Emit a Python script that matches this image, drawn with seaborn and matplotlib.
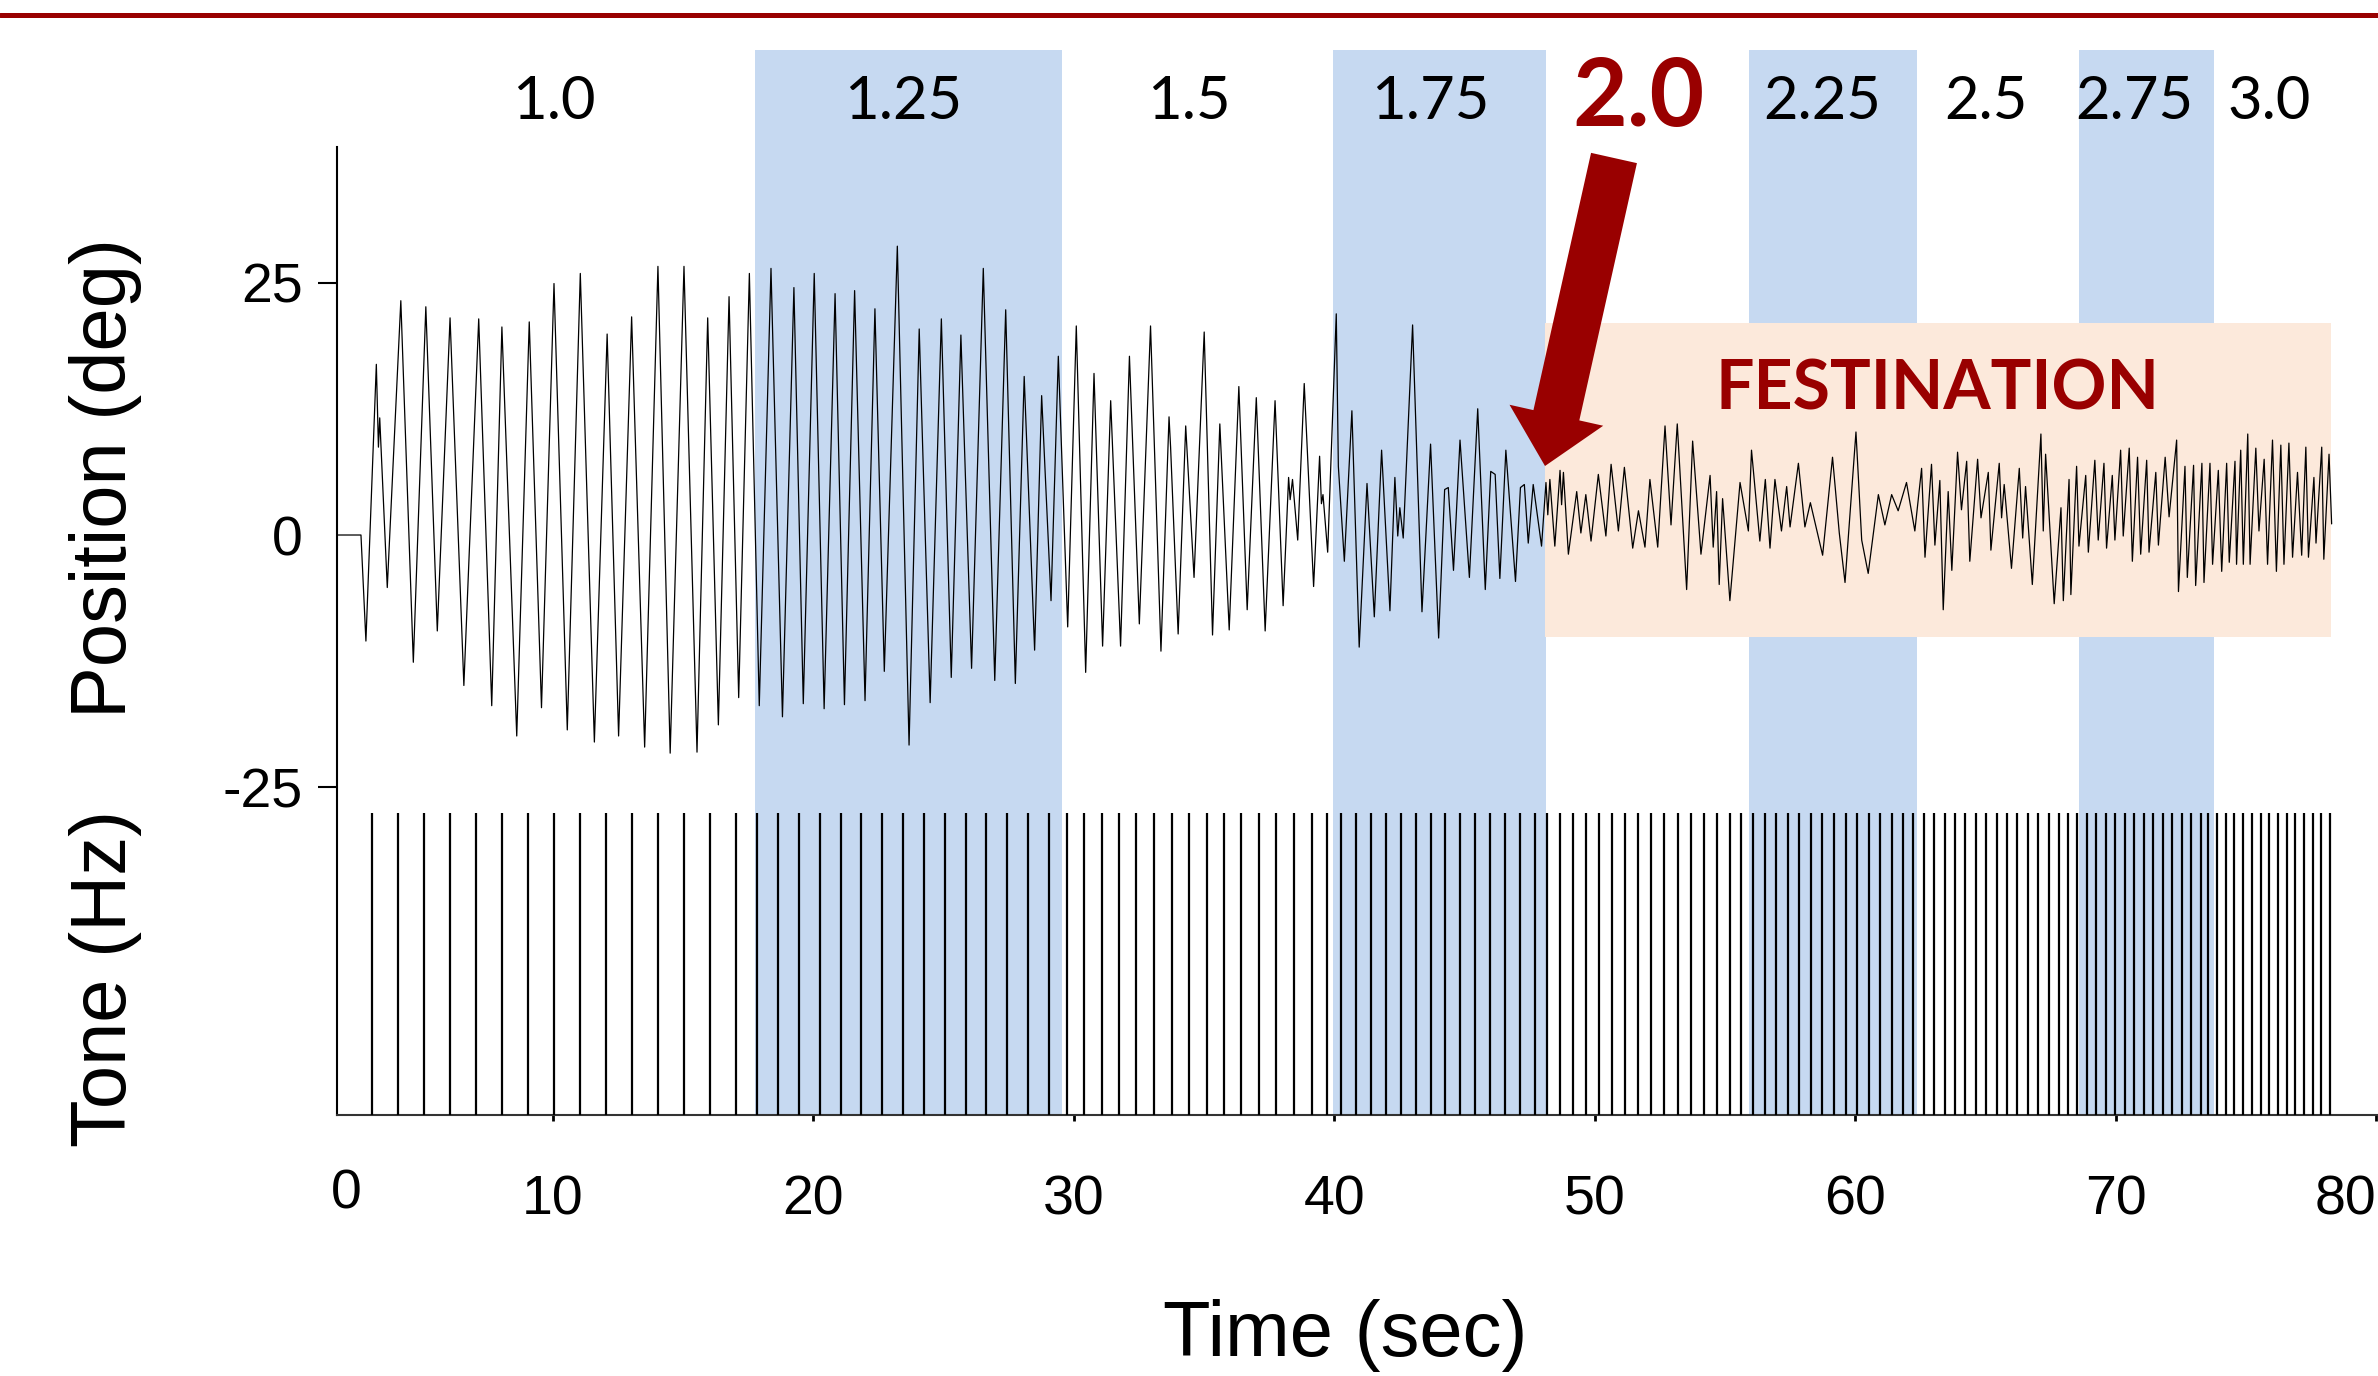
import numpy as np
import pandas as pd
import seaborn as sns
import matplotlib.pyplot as plt
from matplotlib.patches import Rectangle, FancyArrow
from matplotlib.lines import Line2D

# ---- data ----
# heel position trace (deg), peaks and troughs
trace_time = [
    1.71, 2.63, 2.82, 3.22, 3.30, 3.35, 3.64, 4.16, 4.64, 5.12, 5.56, 6.05, 6.58, 7.15, 7.65,
    8.04, 8.61, 9.09, 9.56, 10.04, 10.55, 11.05, 11.59, 12.08, 12.52, 13.02, 13.52, 14.03, 14.50,
    15.03, 15.53, 15.94, 16.35, 16.76, 17.13, 17.54, 17.92, 18.37, 18.81, 19.25, 19.61, 20.03,
    20.41, 20.83, 21.19, 21.58, 21.98, 22.36, 22.72, 23.22, 23.67, 24.06, 24.48, 24.91, 25.29,
    25.66, 26.07, 26.52, 26.96, 27.38, 27.75, 28.09, 28.49, 28.76, 29.12, 29.40, 29.76, 30.09,
    30.45, 30.77, 31.10, 31.41, 31.79, 32.13, 32.51, 32.94, 33.34, 33.65, 33.71, 34.00, 34.29,
    34.61, 35.00, 35.32, 35.60, 35.96, 36.33, 36.65, 37.00, 37.34, 37.72, 38.03, 38.24, 38.30,
    38.39, 38.59, 38.84, 39.20, 39.43, 39.50, 39.56, 39.74, 40.07, 40.15, 40.38, 40.67, 40.95,
    41.25, 41.53, 41.81, 42.13, 42.32, 42.43, 42.51, 42.64, 43.00, 43.36, 43.69, 44.00, 44.23,
    44.37, 44.57, 44.82, 45.18, 45.50, 45.79, 46.00, 46.17, 46.35, 46.58, 46.95, 47.14, 47.29,
    47.44, 47.63, 47.95, 48.12, 48.19, 48.27, 48.46, 48.66, 48.72, 48.79, 48.98, 49.30, 49.46,
    49.65, 49.85, 50.13, 50.42, 50.62, 50.90, 51.13, 51.45, 51.67, 51.92, 52.11, 52.41, 52.69,
    52.92, 53.16, 53.52, 53.75, 54.07, 54.42, 54.54, 54.67, 54.77, 54.90, 55.18, 55.57, 55.89,
    56.01, 56.33, 56.54, 56.72, 56.91, 57.16, 57.36, 57.49, 57.81, 58.06, 58.27, 58.74, 59.12,
    59.38, 59.60, 60.02, 60.24, 60.49, 60.88, 61.13, 61.39, 61.64, 61.96, 62.28, 62.54, 62.67,
    62.92, 63.05, 63.24, 63.37, 63.56, 63.70, 63.92, 64.07, 64.27, 64.39, 64.69, 64.82, 65.10,
    65.20, 65.52, 65.61, 65.71, 65.99, 66.29, 66.42, 66.53, 66.79, 67.12, 67.21, 67.30, 67.63,
    67.89, 67.98, 68.20, 68.27, 68.49, 68.58, 68.84, 68.94, 69.19, 69.32, 69.54, 69.64, 69.86,
    69.96, 70.18, 70.28, 70.51, 70.63, 70.83, 70.95, 71.18, 71.27, 71.53, 71.63, 71.89, 72.04,
    72.33, 72.40, 72.65, 72.74, 72.98, 73.06, 73.30, 73.38, 73.61, 73.71, 73.93, 74.06, 74.25,
    74.35, 74.57, 74.63, 74.79, 74.89, 75.06, 75.15, 75.37, 75.49, 75.69, 75.82, 76.01, 76.16,
    76.33, 76.45, 76.64, 76.78, 76.97, 77.13, 77.29, 77.39, 77.60, 77.68, 77.90, 77.98, 78.18,
    78.28,
]
trace_deg = [
    0.0, 0.0, -10.5, 16.9, 8.7, 11.6, -5.2, 23.2, -12.6, 22.6, -9.5, 21.5, -14.9, 21.4, -16.9,
    20.6, -19.9, 21.1, -17.1, 24.9, -19.3, 25.9, -20.5, 19.9, -19.9, 21.6, -21.0, 26.6, -21.6,
    26.6, -21.5, 21.5, -18.8, 23.6, -16.1, 25.9, -16.9, 26.4, -18.0, 24.5, -16.7, 25.9,
    -17.2, 23.9, -16.8, 24.2, -16.4, 22.4, -13.5, 28.6, -20.8, 20.4, -16.6, 21.4, -14.1,
    19.8, -13.2, 26.4, -14.4, 22.3, -14.7, 15.7, -11.4, 13.8, -6.5, 17.7, -9.1, 20.7,
    -13.6, 16.0, -11.0, 13.3, -11.0, 17.7, -8.8, 20.7, -11.5, 11.7, 8.7, -9.8, 10.8,
    -4.2, 20.1, -9.9, 11.0, -9.4, 14.7, -7.4, 13.6, -9.5, 13.3, -7.0, 5.7, 3.5,
    5.5, -0.5, 15.0, -5.1, 7.8, 3.1, 4.0, -1.7, 21.9, 6.8, -2.6, 12.3, -11.1,
    5.1, -8.1, 8.4, -7.5, 5.7, -0.1, 2.7, -0.3, 20.8, -7.6, 9.0, -10.2, 4.5,
    4.7, -3.5, 9.4, -4.2, 12.5, -5.4, 6.3, 6.0, -4.3, 8.4, -4.6, 4.7, 5.0,
    -0.8, 5.0, -1.1, 5.2, 2.0, 5.5, -1.1, 6.4, 3.0, 6.2, -1.9, 4.3, 0.2,
    4.0, -0.6, 6.0, -0.1, 7.0, 0.4, 6.7, -1.3, 2.4, -1.2, 5.5, -1.2, 10.8,
    1.0, 11.0, -5.4, 9.3, -1.9, 5.9, -1.2, 4.3, -4.9, 3.6, -6.5, 5.2, 0.4,
    8.4, -0.6, 5.5, -1.3, 5.5, 0.4, 4.8, 0.8, 7.1, 0.8, 3.2, -2.0, 7.7,
    0.2, -4.7, 10.2, -0.5, -3.8, 4.0, 1.0, 4.0, 2.4, 5.2, 0.4, 6.6, -2.2,
    7.0, -1.0, 5.4, -7.4, 4.3, -3.5, 8.2, 2.5, 7.3, -2.6, 7.5, 1.7, 6.2,
    -1.5, 7.1, 1.7, 5.0, -3.3, 6.6, -0.3, 4.8, -4.9, 10.0, 0.4, 8.0, -6.8,
    2.7, -6.5, 5.5, -5.9, 6.8, -1.1, 5.9, -1.7, 7.4, -0.5, 7.1, -1.3, 5.9,
    -0.5, 8.4, -0.1, 8.6, -2.6, 7.7, -1.9, 7.4, -1.7, 6.2, -1.0, 7.7, 1.8,
    9.4, -5.6, 6.8, -4.2, 6.9, -5.0, 7.1, -4.7, 7.1, -2.9, 6.4, -3.6, 7.1,
    -2.7, 7.3, -2.9, 8.4, -2.9, 10.0, -2.9, 8.6, 0.4, 7.5, -2.9, 9.4, -3.6,
    8.9, -2.9, 9.1, -2.2, 6.2, -2.0, 8.7, -2.2, 5.7, -0.8, 8.7, -2.4, 8.0,
    1.1,
]

# metronome tone onsets (sec), one list per pacing rate
tone_rates = ['1.0', '1.25', '1.5', '1.75', '2.0', '2.25', '2.5', '2.75', '3.0']
tones_100 = [3.04, 4.04, 5.04, 6.04, 7.04, 8.04, 9.04, 10.04, 11.04, 12.04, 13.04, 14.04,
             15.04, 16.04, 17.04]
tones_125 = [17.84, 18.64, 19.44, 20.24, 21.04, 21.84, 22.64, 23.44, 24.24, 25.04, 25.84,
             26.64, 27.44, 28.24, 29.04]
tones_150 = [29.72, 30.39, 31.06, 31.73, 32.40, 33.08, 33.75, 34.42, 35.09, 35.76, 36.43,
             37.10, 37.77, 38.45, 39.12]
tones_175 = [39.70, 40.27, 40.84, 41.41, 41.98, 42.55, 43.12, 43.69, 44.26, 44.83, 45.40,
             45.97, 46.54, 47.11, 47.68]
tones_200 = [48.17, 48.67, 49.17, 49.67, 50.17, 50.67, 51.17, 51.67, 52.17, 52.67, 53.17,
             53.67, 54.17, 54.67, 55.17]
tones_225 = [55.62, 56.06, 56.51, 56.95, 57.40, 57.84, 58.29, 58.73, 59.18, 59.62, 60.06,
             60.51, 60.95, 61.40, 61.84]
tones_250 = [62.22, 62.62, 63.02, 63.42, 63.82, 64.22, 64.62, 65.02, 65.42, 65.82, 66.22,
             66.62, 67.02, 67.42, 67.82]
tones_275 = [68.16, 68.52, 68.89, 69.25, 69.61, 69.98, 70.34, 70.71, 71.07, 71.43, 71.80,
             72.16, 72.52, 72.89, 73.25]
tones_300 = [73.55, 73.88, 74.22, 74.55, 74.88, 75.22, 75.55, 75.88, 76.22, 76.55, 76.88,
             77.22, 77.55, 77.88, 78.20]
tone_times = [tones_100, tones_125, tones_150, tones_175, tones_200, tones_225, tones_250,
              tones_275, tones_300]
highlight_rate = '2.0'

# shaded (blue) pacing blocks and the festination window
band_start = [17.75, 39.95, 55.91, 68.58]
band_end = [29.54, 48.11, 62.38, 73.76]
fest_start, fest_end = 48.08, 78.25
fest_low, fest_high = -10.1, 21.0

xticks = [10, 20, 30, 40, 50, 60, 70, 80]
yticks = [-25, 0, 25]

RED = '#990000'
BLUE = '#C6D9F1'
PEACH = '#FCE9DB'

sns.set_theme(style='ticks')
plt.rcParams['font.family'] = ['Liberation Sans', 'DejaVu Sans']
plt.rcParams.update({'text.color': 'black', 'axes.labelcolor': 'black',
                     'xtick.color': 'black', 'ytick.color': 'black'})

W, H = 2378, 1376
fig = plt.figure(figsize=(W / 100, H / 100), dpi=100)
ax = fig.add_axes([337 / W, 261 / H, (W - 337) / W, 968 / H])

# trace
df = pd.DataFrame({'time': trace_time, 'deg': trace_deg})
sns.lineplot(data=df, x='time', y='deg', ax=ax, color='black', lw=0.9,
             estimator=None, sort=False, zorder=4)
ax.set_xlabel('')
ax.set_ylabel('')

# blue blocks reach up behind the rate labels
for x0, x1 in zip(band_start, band_end):
    ax.axvspan(x0, x1, ymin=0, ymax=1.1, color=BLUE, lw=0, zorder=0, clip_on=False)

ax.add_patch(Rectangle((fest_start, fest_low), fest_end - fest_start, fest_high - fest_low,
                       facecolor=PEACH, lw=0, zorder=1))
ax.text((fest_start + fest_end) / 2, 12.4, 'FESTINATION', ha='center', va='baseline',
        fontsize=49, family='Lato', weight='bold', color=RED, zorder=5)

# tones
all_tones = np.concatenate(tone_times)
ax.vlines(all_tones, 0, 0.312, transform=ax.get_xaxis_transform(), color='black',
          lw=1.6, zorder=3)

# rate labels above each block
for rate, tones in zip(tone_rates, tone_times):
    xc = (tones[0] + tones[-1]) / 2
    if rate == highlight_rate:
        ax.text(xc, 1.0217, rate, transform=ax.get_xaxis_transform(), ha='center',
                va='baseline', fontsize=68, family='Lato', weight='bold', color=RED,
                clip_on=False)
    else:
        ax.text(xc, 1.029, rate, transform=ax.get_xaxis_transform(), ha='center',
                va='baseline', fontsize=43, family='Lato', color='black', clip_on=False)

ax.set_xlim(1.71, 80.06)
ax.set_ylim(-57.43, 38.42)
ax.set_xticks(xticks)
ax.set_xticklabels([str(v) for v in xticks])
ax.set_yticks(yticks)
ax.set_yticklabels([str(v) for v in yticks])
ax.tick_params(axis='x', length=4, width=2, pad=39, labelsize=40, color='black',
               labelcolor='black')
ax.tick_params(axis='y', length=13.7, width=1.5, pad=11, labelsize=40, color='black',
               labelcolor='black')
ax.yaxis.get_major_ticks()[1].tick1line.set_visible(False)
ax.get_xticklabels()[-1].set_ha('right')
ax.text(0.0043, -0.0826, '0', transform=ax.transAxes, ha='center', va='center', fontsize=40,
        color='black')

sns.despine(ax=ax)
ax.spines['left'].set_linewidth(1.5)
ax.spines['left'].set_color('black')
ax.spines['bottom'].set_linewidth(1.5)
ax.spines['bottom'].set_color('#333333')
ax.grid(False)

fig.text(106 / W, 1 - 478 / H, 'Position (deg)', rotation=90, ha='center', va='center',
         fontsize=56, color='black')
fig.text(106 / W, 1 - 978 / H, 'Tone (Hz)', rotation=90, ha='center', va='center',
         fontsize=56, color='black')
fig.text(1345 / W, 1 - 1335 / H, 'Time (sec)', ha='center', va='center', fontsize=56,
         color='black')

# big arrow pointing at the onset of festination
fig.add_artist(FancyArrow(16.14, 12.18, -0.69, -3.08, width=0.47, head_width=0.96,
                          head_length=0.52, length_includes_head=True, color=RED, lw=0,
                          transform=fig.dpi_scale_trans, zorder=5))
fig.add_artist(Line2D([0, 1], [1 - 15 / H] * 2, transform=fig.transFigure, color=RED, lw=3.6))

fig.savefig('out.png', dpi=100)
